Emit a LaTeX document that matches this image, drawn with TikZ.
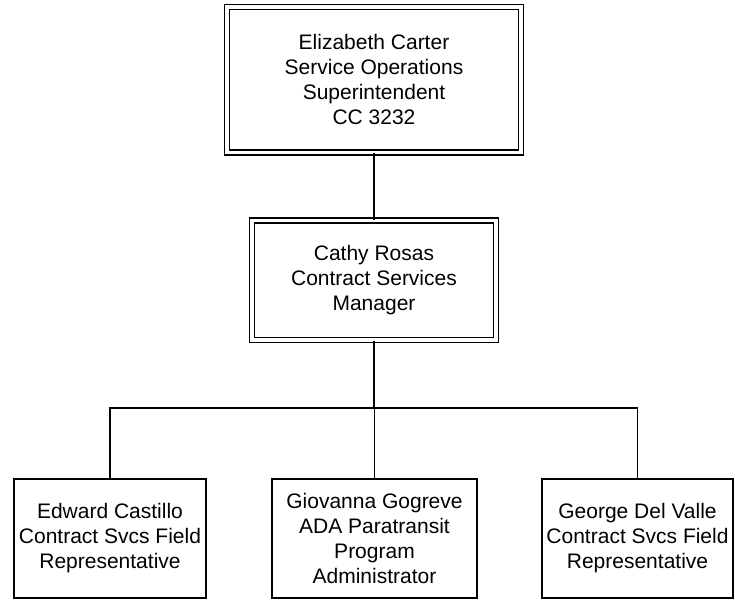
\documentclass[tikz,border=0pt]{standalone}
\usepackage{fontspec}
\setmainfont{Liberation Sans}
\begin{document}
\begin{tikzpicture}[x=1pt,y=-1pt,
  txt/.style={align=center,font=\fontsize{21}{25}\selectfont,inner sep=0pt},
  dblbox/.style={txt,draw=black,line width=1.5pt,double=white,double distance=3.5pt},
  sglbox/.style={txt,draw=black,line width=1.5pt},
  conn/.style={line width=1.2pt}]
\useasboundingbox[fill=white] (0,0) rectangle (735,600);
\node[dblbox,minimum width=294pt,minimum height=145.5pt] (top) at (374,79.5)
  {Elizabeth Carter\\Service Operations\\Superintendent\\CC 3232};
\node[dblbox,minimum width=244pt,minimum height=119.5pt] (mid) at (374,280)
  {Cathy Rosas\\Contract Services\\Manager};
\node[sglbox,minimum width=192pt,minimum height=119pt] (left) at (110,538.5)
  {Edward Castillo\\Contract Svcs Field\\Representative};
\node[sglbox,minimum width=205pt,minimum height=119pt] (center) at (374.5,538.5)
  {Giovanna Gogreve\\ADA Paratransit\\Program\\Administrator};
\node[sglbox,minimum width=191pt,minimum height=119pt] (right) at (637.5,538.5)
  {George Del Valle\\Contract Svcs Field\\Representative};
\coordinate (bus) at (374,408);
\draw[conn] (top.south) -- (mid.north);
\draw[conn] (mid.south) -- (bus);
\draw[conn] (left.north) |- (bus) -| (right.north);
\draw[conn] (center.north) -- (center.north |- bus);
\end{tikzpicture}
\end{document}
